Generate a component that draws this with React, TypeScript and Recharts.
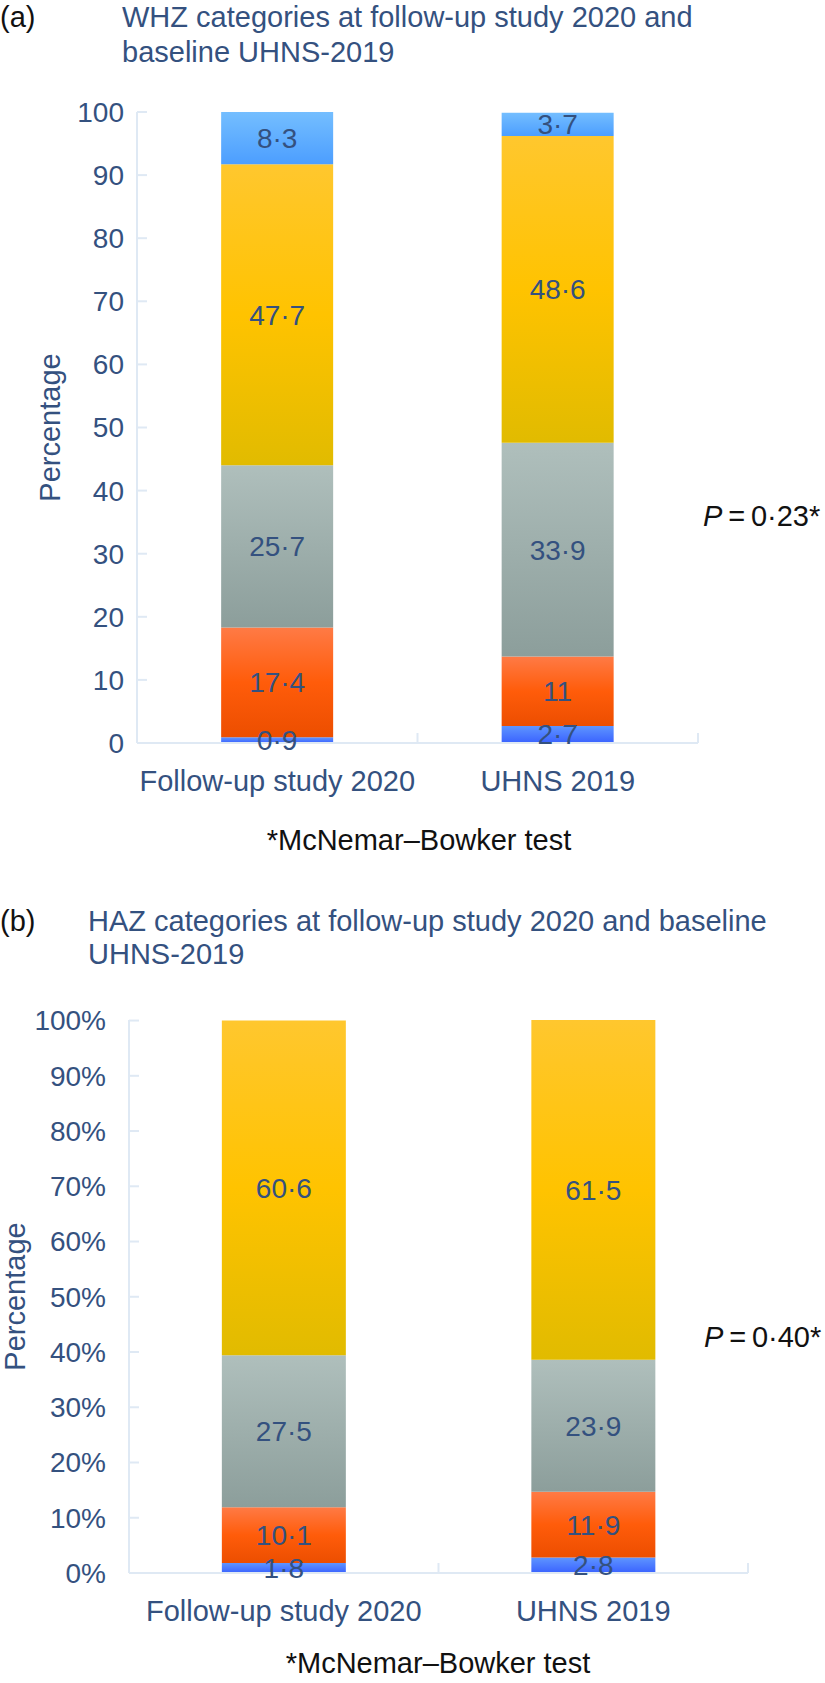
import React from 'react';
import { BarChart, Bar, XAxis, YAxis, LabelList } from 'recharts';

const categories = ['Follow-up study 2020', 'UHNS 2019'];

// WHZ categories (panel a), bottom to top of each stack
const whzSevere = [0.9, 2.7];
const whzModerate = [17.4, 11];
const whzMild = [25.7, 33.9];
const whzNormal = [47.7, 48.6];
const whzOver = [8.3, 3.7];

// HAZ categories (panel b)
const hazSevere = [1.8, 2.8];
const hazModerate = [10.1, 11.9];
const hazMild = [27.5, 23.9];
const hazNormal = [60.6, 61.5];

const yTicks = [0, 10, 20, 30, 40, 50, 60, 70, 80, 90, 100];

const TEXT = '#34517F';
const AXIS = '#DFE9F4';
const FONT = '"Liberation Sans", Arial, sans-serif';

// gradient stops for each segment, top -> bottom
const SEGMENT_FILLS: Record<string, string[]> = {
  sev: ['#5E95FF', '#3A62FF'],
  mod: ['#FF7A45', '#FF5C0A', '#EC4E00'],
  mild: ['#AFBFBC', '#8C9E9B'],
  norm: ['#FFC72E', '#FFC300', '#E1BB00'],
  over: ['#74BEFF', '#4C9EFF'],
};

const whzData = categories.map((cat, i) => ({
  cat,
  sev: whzSevere[i],
  mod: whzModerate[i],
  mild: whzMild[i],
  norm: whzNormal[i],
  over: whzOver[i],
}));

const hazData = categories.map((cat, i) => ({
  cat,
  sev: hazSevere[i],
  mod: hazModerate[i],
  mild: hazMild[i],
  norm: hazNormal[i],
}));

// 17.4 -> 17·4 (journal style decimal point)
const fmtValue = (v: any) => String(v).replace('.', '·');

// Category name plus a small upward tick mark on the band's right boundary
function CategoryTick(props: any) {
  const { x, y, payload, width, visibleTicksCount } = props;
  const half = payload.offset || width / (visibleTicksCount || 1) / 2;
  const bx = x + half;
  return (
    <g>
      <line x1={bx} x2={bx} y1={y} y2={y - 10} stroke={AXIS} strokeWidth={2} />
      <text x={x} y={y + 27} dy="0.71em" textAnchor="middle" fill={TEXT} fontSize={29}>
        {payload.value}
      </text>
    </g>
  );
}

interface PanelProps {
  id: string;
  data: Record<string, any>[];
  keys: string[];
  top: number;
  plotTop: number;
  plotHeight: number;
  axisX: number;
  plotRight: number;
  tickMargin: number;
  labelOffset: number;
  tickFmt?: (v: number) => string;
}

function StackPanel({
  id,
  data,
  keys,
  top,
  plotTop,
  plotHeight,
  axisX,
  plotRight,
  tickMargin,
  labelOffset,
  tickFmt,
}: PanelProps) {
  const height = plotTop + plotHeight + 70;
  return (
    <div style={{ position: 'absolute', left: 0, top }}>
      <BarChart
        width={825}
        height={height}
        data={data}
        margin={{ top: plotTop, right: 825 - plotRight, left: 0, bottom: 0 }}
        barCategoryGap="30%"
      >
        <defs>
          {keys.map((k) => {
            const stops = SEGMENT_FILLS[k];
            return (
              <linearGradient key={k} id={`${id}-${k}`} x1="0" y1="0" x2="0" y2="1">
                {stops.map((c, i) => (
                  <stop key={i} offset={i / (stops.length - 1)} stopColor={c} />
                ))}
              </linearGradient>
            );
          })}
        </defs>
        <XAxis
          dataKey="cat"
          interval={0}
          height={70}
          tickSize={0}
          tickMargin={0}
          tick={<CategoryTick />}
          tickLine={false}
          axisLine={{ stroke: AXIS, strokeWidth: 2 }}
        />
        <YAxis
          width={axisX}
          domain={[0, 100]}
          ticks={yTicks}
          interval={0}
          tickSize={-10}
          tickMargin={tickMargin}
          tickFormatter={tickFmt}
          tick={{ fill: TEXT, fontSize: 28 }}
          axisLine={{ stroke: AXIS, strokeWidth: 2 }}
          tickLine={{ stroke: AXIS, strokeWidth: 2 }}
          label={{
            value: 'Percentage',
            angle: -90,
            position: 'insideLeft',
            offset: labelOffset,
            fill: TEXT,
            fontSize: 29,
            style: { textAnchor: 'middle' },
          }}
        />
        {keys.map((k) => (
          <Bar key={k} dataKey={k} stackId="s" fill={`url(#${id}-${k})`} isAnimationActive={false}>
            <LabelList dataKey={k} position="center" formatter={fmtValue} fill={TEXT} fontSize={28} />
          </Bar>
        ))}
      </BarChart>
    </div>
  );
}

const textBase: React.CSSProperties = {
  position: 'absolute',
  fontSize: 29,
  whiteSpace: 'nowrap',
};

export default function App() {
  return (
    <div
      style={{
        position: 'absolute',
        left: 0,
        top: 0,
        width: 825,
        height: 1683,
        background: '#fff',
        fontFamily: FONT,
        overflow: 'hidden',
      }}
    >
      {/* panel (a) */}
      <div style={{ ...textBase, left: 0, top: 0, lineHeight: '35px', color: '#111' }}>(a)</div>
      <div style={{ ...textBase, left: 122, top: 0, lineHeight: '35px', color: TEXT }}>
        WHZ categories at follow-up study 2020 and
        <br />
        baseline UHNS-2019
      </div>
      <StackPanel
        id="whz"
        data={whzData}
        keys={['sev', 'mod', 'mild', 'norm', 'over']}
        top={0}
        plotTop={112}
        plotHeight={631}
        axisX={137}
        plotRight={698}
        tickMargin={23}
        labelOffset={50}
      />
      <div style={{ ...textBase, left: 703, top: 498, lineHeight: '36px', color: '#111' }}>
        <i>P</i>&thinsp;=&thinsp;0·23*
      </div>
      <div
        style={{
          ...textBase,
          left: 419,
          top: 822,
          lineHeight: '36px',
          color: '#111',
          transform: 'translateX(-50%)',
        }}
      >
        *McNemar–Bowker test
      </div>

      {/* panel (b) */}
      <div style={{ ...textBase, left: 0, top: 905, lineHeight: '33px', color: '#111' }}>(b)</div>
      <div style={{ ...textBase, left: 88, top: 905, lineHeight: '33px', color: TEXT }}>
        HAZ categories at follow-up study 2020 and baseline
        <br />
        UHNS-2019
      </div>
      <StackPanel
        id="haz"
        data={hazData}
        keys={['sev', 'mod', 'mild', 'norm']}
        top={960}
        plotTop={60}
        plotHeight={553}
        axisX={129}
        plotRight={748}
        tickMargin={33}
        labelOffset={15}
        tickFmt={(v) => `${v}%`}
      />
      <div style={{ ...textBase, left: 704, top: 1319, lineHeight: '36px', color: '#111' }}>
        <i>P</i>&thinsp;=&thinsp;0·40*
      </div>
      <div
        style={{
          ...textBase,
          left: 438,
          top: 1645,
          lineHeight: '36px',
          color: '#111',
          transform: 'translateX(-50%)',
        }}
      >
        *McNemar–Bowker test
      </div>
    </div>
  );
}
